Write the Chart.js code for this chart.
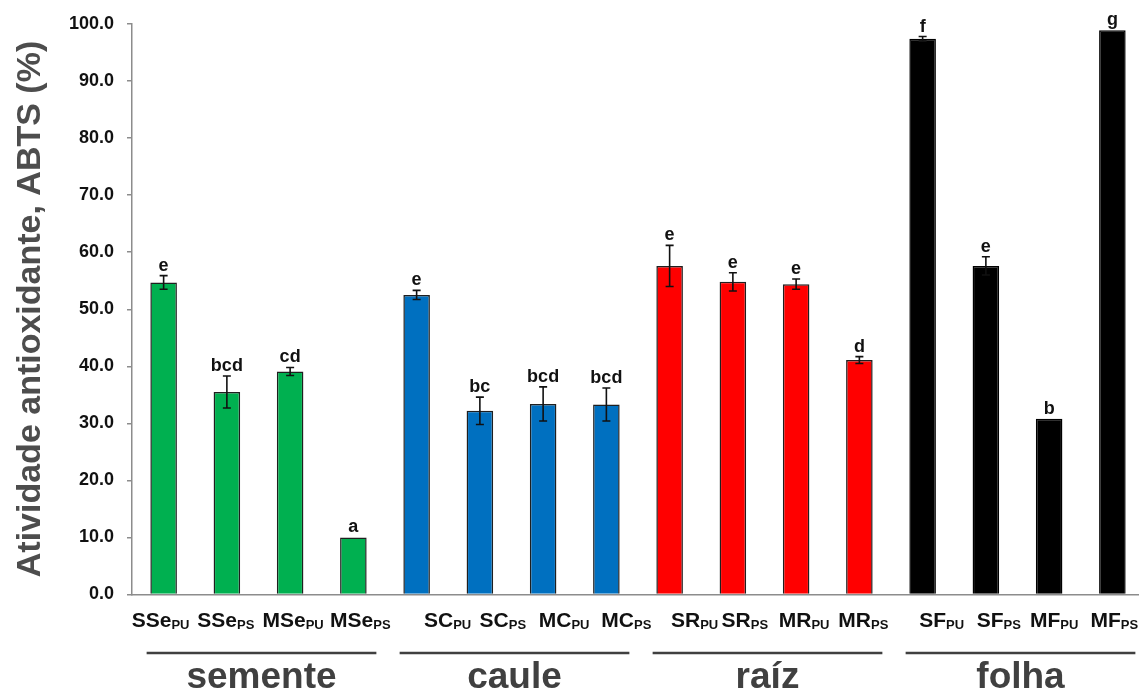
<!DOCTYPE html>
<html>
<head>
<meta charset="utf-8">
<script src="https://cdn.jsdelivr.net/npm/chart.js@4.4.1/dist/chart.umd.min.js"></script>
<style>
  html, body { margin: 0; padding: 0; background: #fff; overflow: hidden; }
  #wrap { width: 1144px; height: 688px; }
</style>
</head>
<body>
<div id="wrap"><canvas id="abts" width="1144" height="688"></canvas></div>
<script>
// sample codes, with the extraction suffix drawn as subscript
const codes = ['SSe', 'SSe', 'MSe', 'MSe', 'SC', 'SC', 'MC', 'MC', 'SR', 'SR', 'MR', 'MR', 'SF', 'SF', 'MF', 'MF'];
const subs = ['PU', 'PS', 'PU', 'PS', 'PU', 'PS', 'PU', 'PS', 'PU', 'PS', 'PU', 'PS', 'PU', 'PS', 'PU', 'PS'];
// ABTS antioxidant activity (%) and standard deviation
const abts = [54.7, 35.5, 39.1, 10.0, 52.5, 32.2, 33.4, 33.3, 57.6, 54.8, 54.4, 41.1, 97.4, 57.6, 30.8, 98.9];
const sd = [1.2, 2.8, 0.7, 0, 0.8, 2.4, 3.0, 2.9, 3.6, 1.6, 0.9, 0.6, 0.4, 1.6, 0, 0];
// Tukey letters
const letters = ['e', 'bcd', 'cd', 'a', 'e', 'bc', 'bcd', 'bcd', 'e', 'e', 'e', 'd', 'f', 'e', 'b', 'g'];
// plant parts, 4 samples each
const parts = ['semente', 'caule', 'raíz', 'folha'];
const partColors = ['#00b050', '#0070c0', '#ff0000', '#000000'];

const FONT = '"Liberation Sans", Arial, Helvetica, sans-serif';

// the sample names sit a little off their bars (hand placed text boxes)
const nameNudge = [-3, -1, 3, 7, 31, 23, 21, 20, 25, 12, 8, 4, 19, 13, 5, 2];

const fills = abts.map((v, i) => partColors[Math.floor(i / 4)]);
const borders = abts.map((v, i) => i >= 12 ? '#000000' : '#1f1f1f');

const extras = {
  id: 'extras',
  afterDatasetsDraw(chart) {
    const ctx = chart.ctx;
    const y = chart.scales.y;
    const bars = chart.getDatasetMeta(0).data;
    ctx.save();

    // error bars + letters
    bars.forEach((bar, i) => {
      const x = bar.x;
      const top = y.getPixelForValue(abts[i] + sd[i]);
      const bot = y.getPixelForValue(abts[i] - sd[i]);
      if (sd[i] > 0) {
        ctx.strokeStyle = '#111';
        ctx.lineWidth = 1.6;
        ctx.beginPath();
        ctx.moveTo(x, top); ctx.lineTo(x, bot);
        ctx.moveTo(x - 4, top); ctx.lineTo(x + 4, top);
        ctx.moveTo(x - 4, bot); ctx.lineTo(x + 4, bot);
        ctx.stroke();
      }
      ctx.fillStyle = '#111';
      ctx.font = 'bold 18px ' + FONT;
      ctx.textAlign = 'center';
      ctx.textBaseline = 'alphabetic';
      ctx.fillText(letters[i], x, top - 5);
    });

    // x labels with subscripts
    bars.forEach((bar, i) => {
      ctx.font = 'bold 21px ' + FONT;
      const w1 = ctx.measureText(codes[i]).width;
      ctx.font = 'bold 13px ' + FONT;
      const w2 = ctx.measureText(subs[i]).width;
      const x0 = bar.x + nameNudge[i] - (w1 + w2) / 2;
      ctx.textAlign = 'left';
      ctx.fillStyle = '#111';
      ctx.font = 'bold 21px ' + FONT;
      ctx.fillText(codes[i], x0, 627);
      ctx.font = 'bold 13px ' + FONT;
      ctx.fillText(subs[i], x0 + w1, 629);
    });

    // plant part brackets
    parts.forEach((p, g) => {
      const x1 = bars[g * 4].x - 17;
      const x2 = bars[g * 4 + 3].x + 23;
      ctx.strokeStyle = '#404040';
      ctx.lineWidth = 2.5;
      ctx.beginPath();
      ctx.moveTo(x1, 653); ctx.lineTo(x2, 653);
      ctx.stroke();
      ctx.fillStyle = '#404040';
      ctx.font = 'bold 37px ' + FONT;
      ctx.textAlign = 'center';
      ctx.fillText(p, (x1 + x2) / 2, 688);
    });

    // y axis title
    ctx.translate(40, 309);
    ctx.rotate(-Math.PI / 2);
    ctx.fillStyle = '#4d4d4d';
    ctx.font = 'bold 34px ' + FONT;
    ctx.textAlign = 'center';
    ctx.fillText('Atividade antioxidante, ABTS (%)', 0, 0);
    ctx.restore();
  }
};

new Chart(document.getElementById('abts'), {
  type: 'bar',
  data: {
    labels: codes.map((c, i) => c + subs[i]),
    datasets: [{
      data: abts,
      backgroundColor: fills,
      borderColor: borders,
      borderWidth: 1.5,
      borderSkipped: 'bottom',
      barPercentage: 0.42,
      categoryPercentage: 1
    }]
  },
  options: {
    responsive: false,
    animation: false,
    layout: {
      autoPadding: false,
      padding: { left: 0, right: 0, top: 24, bottom: 93.5 }
    },
    plugins: {
      legend: { display: false },
      tooltip: { enabled: false }
    },
    scales: {
      x: {
        type: 'category',
        offset: true,
        grid: { display: false },
        border: { display: true, color: '#8c8c8c', width: 1.5 },
        ticks: { display: false },
        afterFit(scale) { scale.height = 0; }
      },
      y: {
        min: 0,
        max: 100,
        ticks: {
          stepSize: 10,
          padding: 13,
          color: '#111',
          font: { family: FONT, size: 18, weight: 'bold' },
          callback: v => v.toFixed(1)
        },
        grid: {
          drawOnChartArea: false,
          drawTicks: true,
          tickLength: 5,
          color: '#8c8c8c',
          lineWidth: 1.5
        },
        border: { display: true, color: '#8c8c8c', width: 1.5 },
        afterFit(scale) { scale.width = 132; }
      }
    }
  },
  plugins: [extras]
});
</script>
</body>
</html>
